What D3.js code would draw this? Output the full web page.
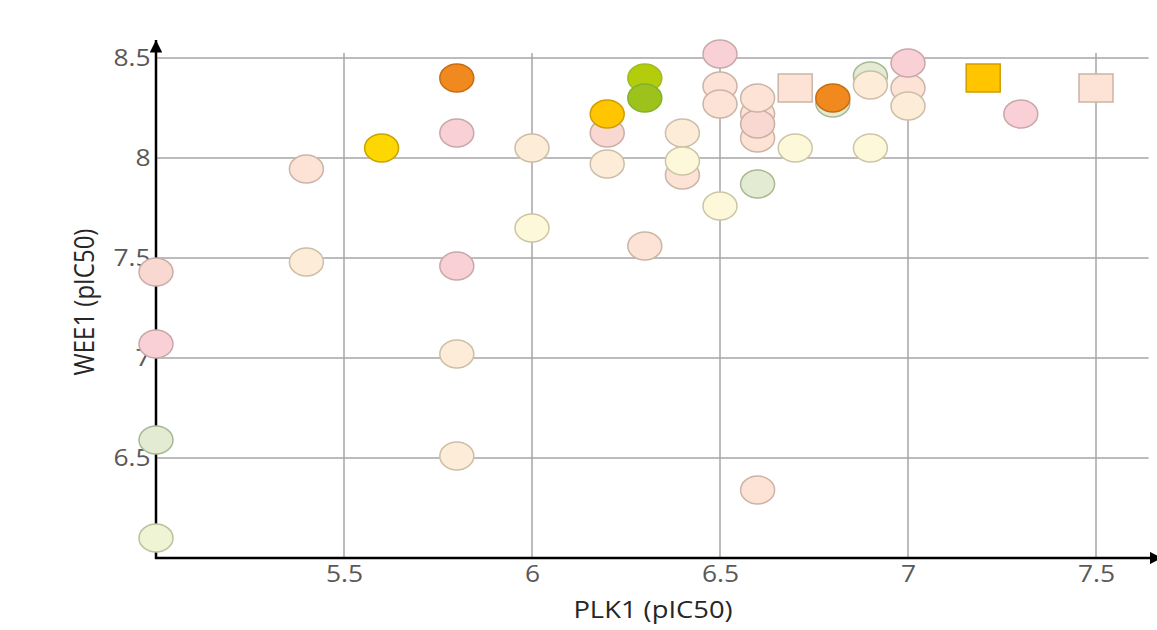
<!DOCTYPE html>
<html>
<head>
<meta charset="utf-8">
<script src="https://cdn.jsdelivr.net/npm/d3@7"></script>
<style>
  body { margin: 0; background: #fff; }
  text { font-family: "Open Sans", "Noto Sans", sans-serif; }
</style>
</head>
<body>
<div class="scatter"></div>
<script>
// data, in drawing order (later points sit on top)
var plk1 = [5.0, 5.0, 5.0, 5.0, 5.4, 5.4, 5.6, 5.8, 5.8, 5.8, 5.8, 5.8, 6.0, 6.0,
            6.2, 6.2, 6.2, 6.3, 6.3, 6.3, 6.4, 6.4, 6.4, 6.5, 6.5, 6.5, 6.5,
            6.6, 6.6, 6.6, 6.6, 6.6, 6.6, 6.7, 6.7, 6.8, 6.8, 6.9, 6.9, 6.9,
            7.0, 7.0, 7.0, 7.2, 7.3, 7.5];
var wee1 = [7.43, 7.07, 6.59, 6.10, 7.945, 7.48, 8.05, 8.40, 8.125, 7.46, 7.02, 6.51, 8.05, 7.65,
            7.97, 8.125, 8.22, 7.56, 8.40, 8.30, 8.125, 7.915, 7.985, 8.52, 8.36, 8.27, 7.76,
            6.34, 7.87, 8.22, 8.10, 8.17, 8.30, 8.35, 8.05, 8.275, 8.30, 8.05, 8.41, 8.365,
            8.35, 8.475, 8.26, 8.40, 8.22, 8.35];
var group = ["pinkPeach", "pink", "lightGreen", "paleLime", "peach", "cream", "yellow", "orange", "pink", "pink", "cream", "cream", "cream", "lightYellow",
             "cream", "pinkPeach", "amber", "peach", "lime", "green", "cream", "peach", "lightYellow", "pink", "peach", "peach", "lightYellow",
             "peach", "lightGreen", "peach", "peach", "pinkPeach", "peach", "peach", "lightYellow", "lightGreen", "orange", "lightYellow", "lightGreen", "cream",
             "peach", "pink", "cream", "amber", "pink", "peach"];
var shape = ["o", "o", "o", "o", "o", "o", "o", "o", "o", "o", "o", "o", "o", "o",
             "o", "o", "o", "o", "o", "o", "o", "o", "o", "o", "o", "o", "o",
             "o", "o", "o", "o", "o", "o", "sq", "o", "o", "o", "o", "o", "o",
             "o", "o", "o", "sq", "o", "sq"];

var xTicks = [5.5, 6, 6.5, 7, 7.5];
var xTickLabels = ["5.5", "6", "6.5", "7", "7.5"];
var yTicks = [6.5, 7, 7.5, 8, 8.5];
var yTickLabels = ["6.5", "7", "7.5", "8", "8.5"];

var groupNames = ["pink", "pinkPeach", "peach", "cream", "lightYellow", "lightGreen", "paleLime", "orange", "yellow", "amber", "lime", "green"];
var fills   = ["#f8d0d5", "#f9d8d2", "#fce3d6", "#fdecd7", "#fef8da", "#e3ecd3", "#eff4d5", "#f08a1f", "#ffd700", "#ffc600", "#b3cc0c", "#9dc21c"];
var strokes = ["#c8a8aa", "#caaea8", "#ccb4a6", "#cdbea8", "#ccc6a6", "#a9b896", "#b9c29c", "#c86c12", "#c8a400", "#d09d00", "#a0bc1e", "#7fb32e"];

function drawScatter() {
    var w = 1157;
    var h = 630;
    var svg = d3.select(".scatter")
                .append("svg")
                .attr("width", w)
                .attr("height", h);

    var xScale = d3.scaleLinear().domain([5, 7.5]).range([156, 1096]);
    var yScale = d3.scaleLinear().domain([6, 8.5]).range([558, 58]);
    var fillScale = d3.scaleOrdinal().domain(groupNames).range(fills);
    var strokeScale = d3.scaleOrdinal().domain(groupNames).range(strokes);

    var xEnd = 7.66;   // right end of the x axis
    var yGridTop = 8.525;

    // grid
    svg.append("g").selectAll("line")
        .data(xTicks).enter().append("line")
        .attr("x1", d => xScale(d)).attr("x2", d => xScale(d))
        .attr("y1", yScale(yGridTop)).attr("y2", yScale(6))
        .attr("stroke", "#a6a6a6").attr("stroke-width", 1.5);
    svg.append("g").selectAll("line")
        .data(yTicks).enter().append("line")
        .attr("x1", xScale(5)).attr("x2", xScale(7.64))
        .attr("y1", d => yScale(d)).attr("y2", d => yScale(d))
        .attr("stroke", "#a6a6a6").attr("stroke-width", 1.5);

    // tick labels through d3 axes
    var xAxis = d3.axisBottom(xScale).tickValues(xTicks)
        .tickFormat((d, i) => xTickLabels[i]).tickSize(0).tickPadding(7);
    var yAxis = d3.axisLeft(yScale).tickValues(yTicks)
        .tickFormat((d, i) => yTickLabels[i]).tickSize(0).tickPadding(5);

    svg.append("g").attr("transform", `translate(0,${yScale(6)})`).call(xAxis)
        .call(g => g.select(".domain").remove());
    svg.append("g").attr("transform", `translate(${xScale(5)},0)`).call(yAxis)
        .call(g => g.select(".domain").remove());
    svg.selectAll(".tick text")
        .attr("font-family", "'Open Sans', sans-serif")
        .attr("font-size", 24)
        .attr("transform", "scale(1.1,1)")
        .attr("fill", "#595959");

    // axis lines with arrows
    var defs = svg.append("defs");
    defs.append("marker")
        .attr("id", "arrow")
        .attr("viewBox", "0 0 10 10")
        .attr("refX", 10).attr("refY", 5)
        .attr("markerWidth", 5).attr("markerHeight", 5)
        .attr("markerUnits", "strokeWidth")
        .attr("orient", "auto")
        .append("path").attr("d", "M0,0 L10,5 L0,10 z").attr("fill", "#000");

    svg.append("line")
        .attr("x1", xScale(5)).attr("x2", xScale(5))
        .attr("y1", yScale(6) + 1).attr("y2", 40)
        .attr("stroke", "#000").attr("stroke-width", 2.5)
        .attr("marker-end", "url(#arrow)");
    svg.append("line")
        .attr("x1", xScale(5) - 1).attr("x2", xScale(xEnd) + 6)
        .attr("y1", yScale(6)).attr("y2", yScale(6))
        .attr("stroke", "#000").attr("stroke-width", 2.5)
        .attr("marker-end", "url(#arrow)");

    // axis titles
    svg.append("text")
        .attr("transform", "translate(653,618) scale(1.14,1)")
        .attr("text-anchor", "middle")
        .attr("font-size", 24)
        .attr("fill", "#262626")
        .text("PLK1 (pIC50)");
    svg.append("text")
        .attr("transform", "translate(94,302) scale(1.12,1) rotate(-90)")
        .attr("text-anchor", "middle")
        .attr("font-size", 24)
        .attr("fill", "#262626")
        .text("WEE1 (pIC50)");

    // points
    var dataset = plk1.map((x, i) => ({x: x, y: wee1[i], g: group[i], s: shape[i]}));
    var rx = 17, ry = 14;
    var pts = svg.append("g");
    pts.selectAll("ellipse")
        .data(dataset.filter(d => d.s == "o"))
        .enter().append("ellipse")
        .attr("cx", d => xScale(d.x))
        .attr("cy", d => yScale(d.y))
        .attr("rx", rx).attr("ry", ry)
        .attr("fill", d => fillScale(d.g))
        .attr("stroke", d => strokeScale(d.g))
        .attr("stroke-width", 1.5);
    pts.selectAll("rect")
        .data(dataset.filter(d => d.s == "sq"))
        .enter().append("rect")
        .attr("x", d => xScale(d.x) - rx)
        .attr("y", d => yScale(d.y) - ry)
        .attr("width", rx * 2).attr("height", ry * 2)
        .attr("fill", d => fillScale(d.g))
        .attr("stroke", d => strokeScale(d.g))
        .attr("stroke-width", 1.5);
}

drawScatter();
</script>
</body>
</html>
